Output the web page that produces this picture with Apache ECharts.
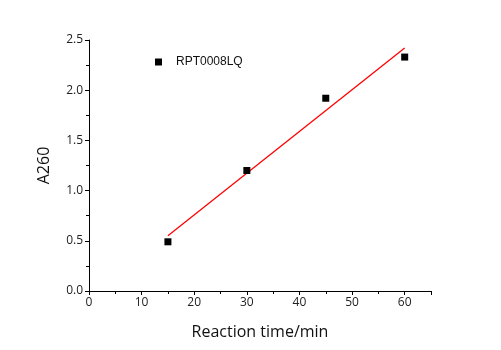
<!DOCTYPE html>
<html>
<head>
<meta charset="utf-8">
<script src="https://cdn.jsdelivr.net/npm/echarts@6/dist/echarts.min.js"></script>
<style>
  html, body { margin: 0; padding: 0; background: #fff; }
  #chart { width: 501px; height: 350px; }
</style>
</head>
<body>
<div id="chart"></div>
<script>
  // measured points
  var times = [15, 30, 45, 60];
  var a260 = [0.49, 1.2, 1.92, 2.33];
  // fitted line ends
  var fitX = [15, 60];
  var fitY = [0.55, 2.42];
  var seriesName = "RPT0008LQ";

  var pts = times.map(function (t, i) { return [t, a260[i]]; });
  var fit = fitX.map(function (t, i) { return [t, fitY[i]]; });

  var chart = echarts.init(document.getElementById("chart"));
  var tickFont = { fontFamily: "Open Sans", fontSize: 12, color: "#222" };
  chart.setOption({
    animation: false,
    grid: { left: 89, right: 70, top: 40, bottom: 59 },
    legend: {
      data: [seriesName],
      left: 150,
      top: 51,
      icon: "rect",
      itemWidth: 7,
      itemHeight: 7,
      textStyle: { fontFamily: "Liberation Sans", fontSize: 12, color: "#111", padding: [0, 0, 0, 9] }
    },
    xAxis: {
      type: "value",
      min: 0,
      max: 65,
      interval: 10,
      name: "Reaction time/min",
      nameLocation: "middle",
      nameGap: 33,
      nameTextStyle: { fontFamily: "Open Sans", fontSize: 16, color: "#111" },
      axisLine: { show: true, lineStyle: { color: "#000", width: 1 } },
      axisTick: { show: true, inside: false, length: 4, lineStyle: { color: "#000", width: 1 } },
      minorTick: { show: true, splitNumber: 2, length: 3, lineStyle: { color: "#000" } },
      axisLabel: Object.assign({ margin: 6, showMaxLabel: false }, tickFont),
      splitLine: { show: false }
    },
    yAxis: {
      type: "value",
      min: 0,
      max: 2.5,
      interval: 0.5,
      name: "A260",
      nameLocation: "middle",
      nameGap: 37,
      nameRotate: 90,
      nameTextStyle: { fontFamily: "Open Sans", fontSize: 16, color: "#111" },
      axisLine: { show: true, lineStyle: { color: "#000", width: 1 } },
      axisTick: { show: true, inside: false, length: 4, lineStyle: { color: "#000", width: 1 } },
      minorTick: { show: true, splitNumber: 2, length: 3, lineStyle: { color: "#000" } },
      axisLabel: Object.assign({
        margin: 6,
        formatter: function (v) { return v.toFixed(1); }
      }, tickFont),
      splitLine: { show: false }
    },
    series: [
      {
        name: seriesName,
        type: "scatter",
        symbol: "rect",
        symbolSize: 7,
        itemStyle: { color: "#000", opacity: 1 },
        data: pts,
        z: 3
      },
      {
        name: "fit",
        type: "line",
        symbol: "none",
        lineStyle: { color: "#ff0000", width: 1.3 },
        data: fit,
        z: 2
      }
    ]
  });
</script>
</body>
</html>
